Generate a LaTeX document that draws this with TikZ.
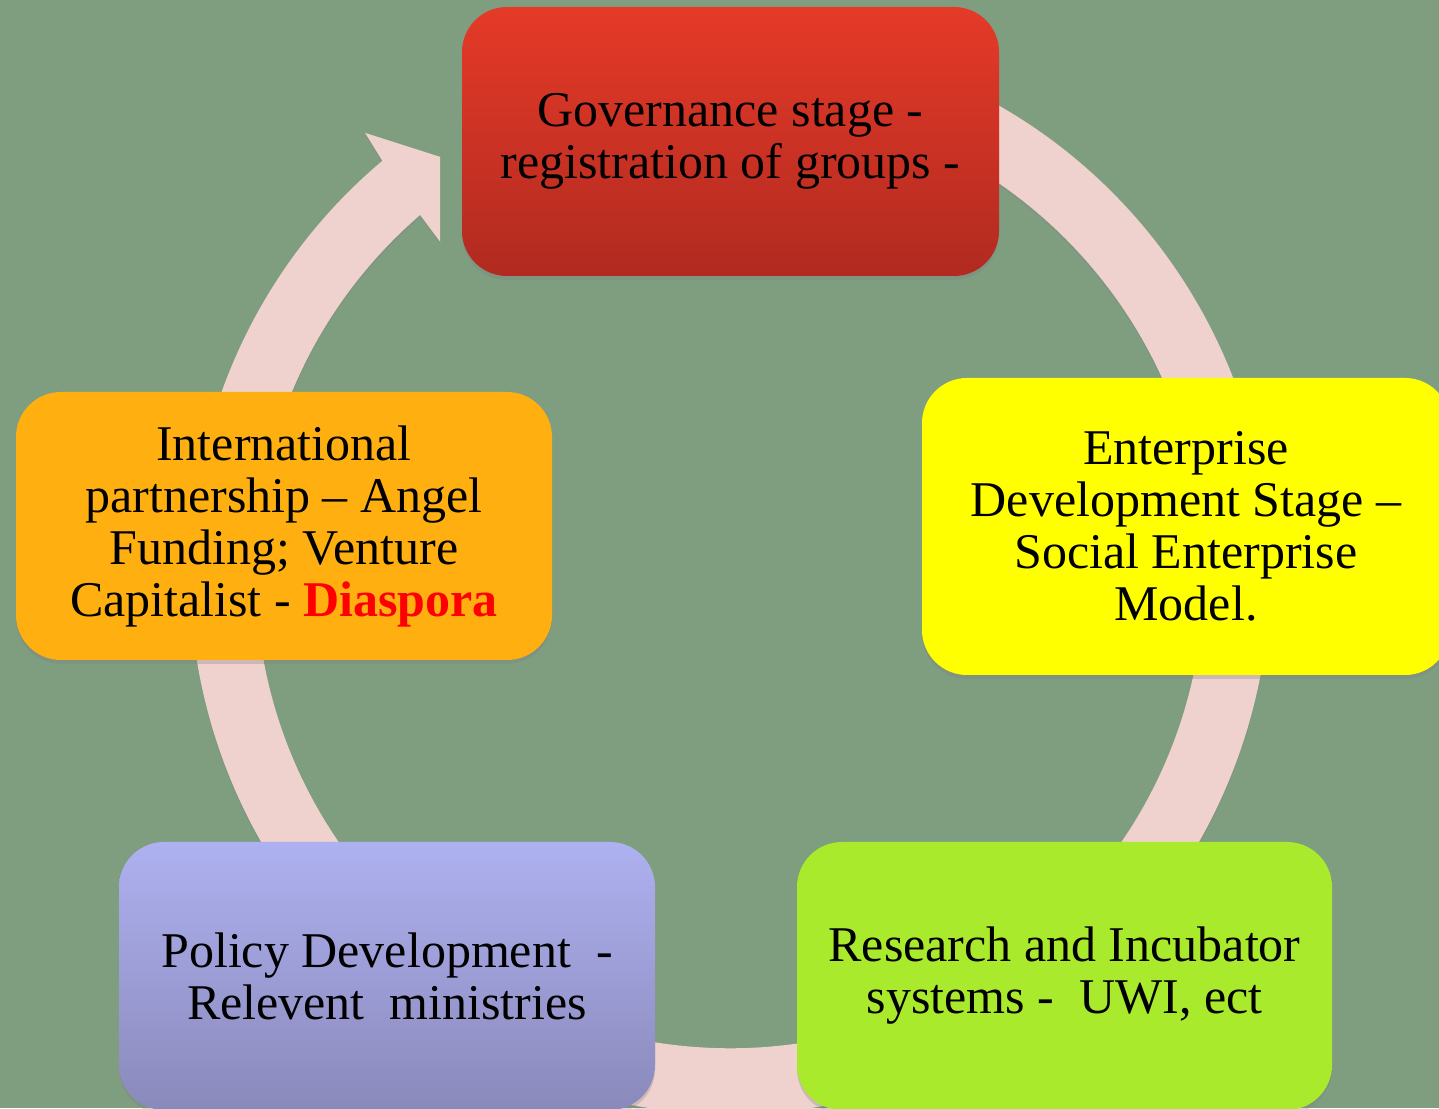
\documentclass[tikz,border=0pt]{standalone}
\usepackage{fontspec}
\setmainfont{Liberation Serif}
\usetikzlibrary{shapes,shadows}
\definecolor{bg}{RGB}{127,158,128}
\definecolor{ring}{RGB}{239,209,206}
\definecolor{govtop}{RGB}{229,58,40}
\definecolor{govbot}{RGB}{177,42,32}
\definecolor{entfill}{RGB}{255,255,0}
\definecolor{resfill}{RGB}{169,234,44}
\definecolor{poltop}{RGB}{174,177,240}
\definecolor{polbot}{RGB}{138,137,187}
\definecolor{intfill}{RGB}{255,176,16}
\definecolor{dias}{RGB}{255,0,0}
\def\Gov{Governance stage -\\registration of groups -}
\def\Ent{Enterprise\\Development Stage --\\Social Enterprise\\Model.}
\def\Res{Research and Incubator\\systems -\ \ UWI, ect}
\def\Pol{Policy Development\ \ -\\Relevent\ \ ministries}
\def\Int{International\\partnership -- Angel\\Funding; Venture\\Capitalist - \textbf{\color{dias}Diaspora}}

\begin{document}
\begin{tikzpicture}[x=1pt,y=1pt,% one unit is one pixel of the slide
				every node/.style={
					align=center,  		% use this so that the "\\" for line break works
					font=\fontsize{50}{52}\selectfont
				},
				stage/.style={rectangle,rounded corners=45pt,inner sep=0pt,
					drop shadow={shadow xshift=0pt,shadow yshift=-4pt,opacity=.3}}
			]
			\useasboundingbox (0,0) rectangle (1439,1108);
			\clip (0,0) rectangle (1439,1108);
			\fill[bg] (0,0) rectangle (1439,1108);
			% the cycle arrow behind the stages
			\begin{scope}[shift={(730,534)}]
				\fill[ring,drop shadow={shadow xshift=0pt,shadow yshift=-3pt,opacity=.25}]
				(130.1:538.7) -- (129.6:572.5) -- (124.8:508) -- (131.1:440.8) -- (130.8:474.3)
				arc[start angle=130.8,end angle=430,radius=474.3] -- (430:540)
				arc[start angle=430,end angle=130.1,radius=540] -- cycle;
			\end{scope}
			\node[stage,top color=govtop,bottom color=govbot,minimum width=537pt,minimum height=269pt](S1) at (730.5,966.5){\Gov};
			\node[stage,fill=entfill,minimum width=528pt,minimum height=297pt](S2) at (1186,581.5){\Ent};
			\node[stage,fill=resfill,minimum width=535pt,minimum height=268pt](S3) at (1064.5,132){\Res};
			\node[stage,top color=poltop,bottom color=polbot,minimum width=536pt,minimum height=268pt](S4) at (387,132){\Pol};
			\node[stage,fill=intfill,minimum width=536pt,minimum height=268pt](S5) at (284,582){\Int};
		\end{tikzpicture}
\end{document}
